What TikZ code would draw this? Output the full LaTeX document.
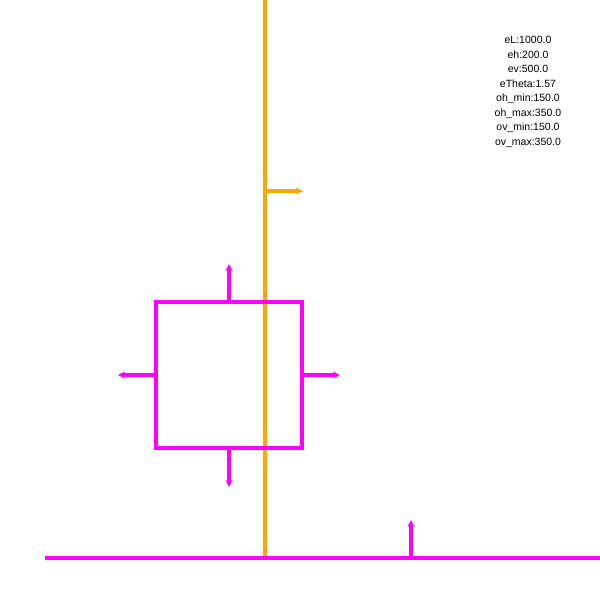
\documentclass[tikz,border=0pt]{standalone}
\usepackage{fontspec}
\setmainfont{Liberation Sans}
\usetikzlibrary{arrows.meta}

\definecolor{wallorange}{RGB}{255,165,0}
\definecolor{boxmagenta}{RGB}{255,0,255}
\tikzset{
    wall/.style={draw=wallorange, line width=3.1pt},
    obj/.style={draw=boxmagenta, line width=3.1pt},
    normal/.style={-{Stealth[length=7pt,width=7pt]}},
    info/.style={font=\fontsize{10.5}{14.5}\selectfont, align=center, inner sep=0pt}
}

\begin{document}
\begin{tikzpicture}[x=1pt,y=-1pt]
    \useasboundingbox (0,0) rectangle (600,600);

        \coordinate (wT) at (265,0);
        \coordinate (wB) at (265,558);
        \coordinate (wN) at (265,191);
        \coordinate (wNe) at (303,191);
        \draw[wall] (wT) -- (wB);
        \draw[wall, normal] (wN) -- (wNe);

        \coordinate (gL) at (45,558);
        \coordinate (gR) at (600,558);
        \coordinate (gN) at (411,558);
        \coordinate (gNe) at (411,520);
        \draw[obj] (gL) -- (gR);
        \draw[obj, normal] (gN) -- (gNe);

        \coordinate (bA) at (156,302);
        \coordinate (bC) at (302,448);
        \draw[obj] (bA) rectangle (bC);
        \coordinate (bTop) at (229,302);
        \coordinate (bBot) at (229,448);
        \coordinate (bLft) at (156,375);
        \coordinate (bRgt) at (302,375);
        \draw[obj, normal] (bTop) -- ++(0,-38);
        \draw[obj, normal] (bBot) -- ++(0,39);
        \draw[obj, normal] (bLft) -- ++(-38,0);
        \draw[obj, normal] (bRgt) -- ++(38,0);

        \node[info, anchor=north] (params) at (528,36) {eL:1000.0\\eh:200.0\\ev:500.0\\eTheta:1.57\\oh\_min:150.0\\oh\_max:350.0\\ov\_min:150.0\\ov\_max:350.0};

    \end{tikzpicture}
\end{document}
